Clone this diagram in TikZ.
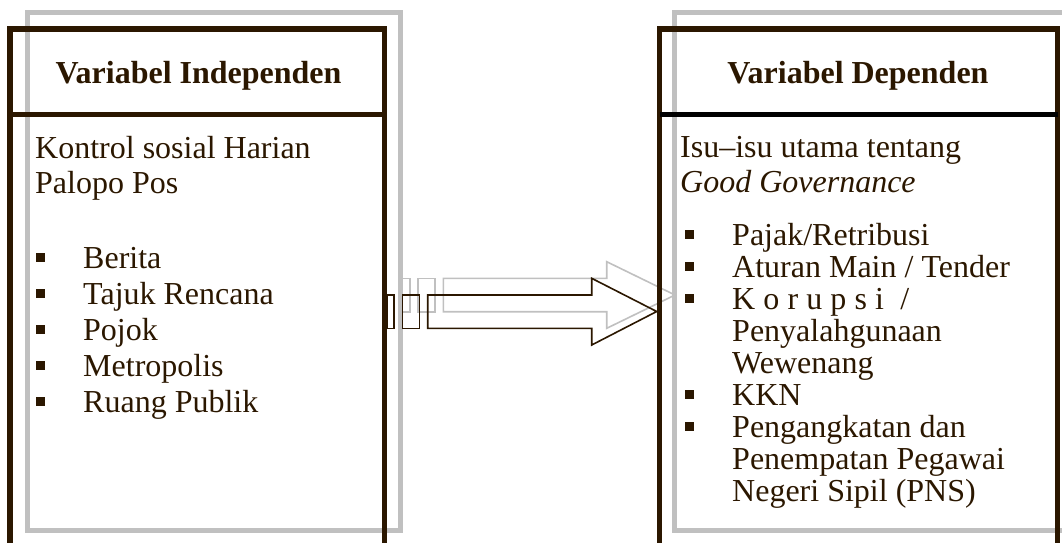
\documentclass[tikz,border=0pt]{standalone}
\usepackage{fontspec}
\setmainfont{Liberation Serif}
\definecolor{dbrown}{RGB}{43,23,0}
\definecolor{shgray}{RGB}{192,192,192}
\tikzset{
  darkbox/.style={draw=dbrown, line width=5.5pt, rectangle, inner sep=0pt, outer sep=0pt},
  shadowbox/.style={draw=shgray, line width=5pt, rectangle, inner sep=0pt, outer sep=0pt},
  darkline/.style={draw=dbrown, line width=5.5pt},
  txt/.style={font=\fontsize{32}{38}\selectfont, text=dbrown, inner sep=0pt, anchor=base west},
  hdr/.style={font=\fontsize{32}{38}\selectfont\bfseries, text=dbrown, inner sep=0pt, anchor=base},
  bul/.style={fill=dbrown, minimum size=9pt, inner sep=0pt, outer sep=0pt, rectangle},
  darkarrow/.style={draw=dbrown, line width=1.6pt, line join=miter},
  grayarrow/.style={draw=shgray, line width=1.6pt, line join=miter},
}
\begin{document}
\begin{tikzpicture}[x=1pt,y=-1pt]
\useasboundingbox (0,0) rectangle (1062,542);
\clip (0,0) rectangle (1062,542);
% shadows
\node[shadowbox, minimum width=373.5pt, minimum height=517.5pt] (LS) at (213.75,271.25) {};
\node[shadowbox, minimum width=400.5pt, minimum height=517.5pt] (RS) at (874.75,271.25) {};
% gray arrow (shadow)
\draw[grayarrow] (401,278.3) rectangle (410,311.7);
\draw[grayarrow] (417.7,278.3) rectangle (435,311.7);
\draw[grayarrow] (443.3,278.3) -- (606.7,278.3) -- (606.7,261.7) -- (675,295) -- (606.7,328.3) -- (606.7,311.7) -- (443.3,311.7) -- cycle;
% dark arrow
\draw[darkarrow] (387.3,295) rectangle (394,328.3);
\draw[darkarrow] (402.3,295) rectangle (419.3,328.3);
\draw[darkarrow] (427.7,295) -- (591.7,295) -- (591.7,278.3) -- (656.7,311.5) -- (591.7,345) -- (591.7,328.3) -- (427.7,328.3) -- cycle;
% main boxes
\node[darkbox, minimum width=374.5pt, minimum height=541pt] (L) at (197.25,299.5) {};
\node[darkbox, minimum width=398pt, minimum height=541pt] (R) at (858.5,299.5) {};
\draw[darkline] (L.west |- 0,114.5) -- (L.east |- 0,114.5);
\draw[draw=black, line width=5.5pt] (R.west |- 0,114.5) -- (R.east |- 0,114.5);
% left texts
\node[hdr] (lh) at (198.5,83) {Variabel Independen};
\node[txt] (l1) at (35,158) {Kontrol sosial Harian};
\node[txt] (l2) at (35,193) {Palopo Pos};
\foreach \t [count=\i from 0] in {Berita,Tajuk Rencana,Pojok,Metropolis,Ruang Publik}{
  \node[txt] (lb\i) at (83,268+36.2*\i) {\t};
  \node[bul] (lq\i) at (40.5,257+36.2*\i) {};
}
% right texts
\node[hdr] (rh) at (858,83) {Variabel Dependen};
\node[txt] (r1) at (680,157) {Isu–isu utama tentang};
\node[txt] (r2) at (680,192) {\itshape Good Governance};
\node[txt] (rb0) at (732,245) {Pajak/Retribusi};
\node[txt] (rb1) at (732,277.1) {Aturan Main / Tender};
\node[txt] (rb2) at (732,309.2) {\makebox[177pt][s]{K o r u p s i \ /}};
\node[txt] (rb2b) at (732,341.3) {Penyalahgunaan};
\node[txt] (rb2c) at (732,373.4) {Wewenang};
\node[txt] (rb3) at (732,405.5) {KKN};
\node[txt] (rb4) at (732,437.6) {Pengangkatan dan};
\node[txt] (rb4b) at (732,469.7) {Penempatan Pegawai};
\node[txt] (rb4c) at (732,501.8) {Negeri Sipil (PNS)};
\node[bul] (rq0) at (689,234) {};
\node[bul] (rq1) at (689,266.1) {};
\node[bul] (rq2) at (689,298.2) {};
\node[bul] (rq3) at (689,394.5) {};
\node[bul] (rq4) at (689,426.6) {};
\end{tikzpicture}
\end{document}
